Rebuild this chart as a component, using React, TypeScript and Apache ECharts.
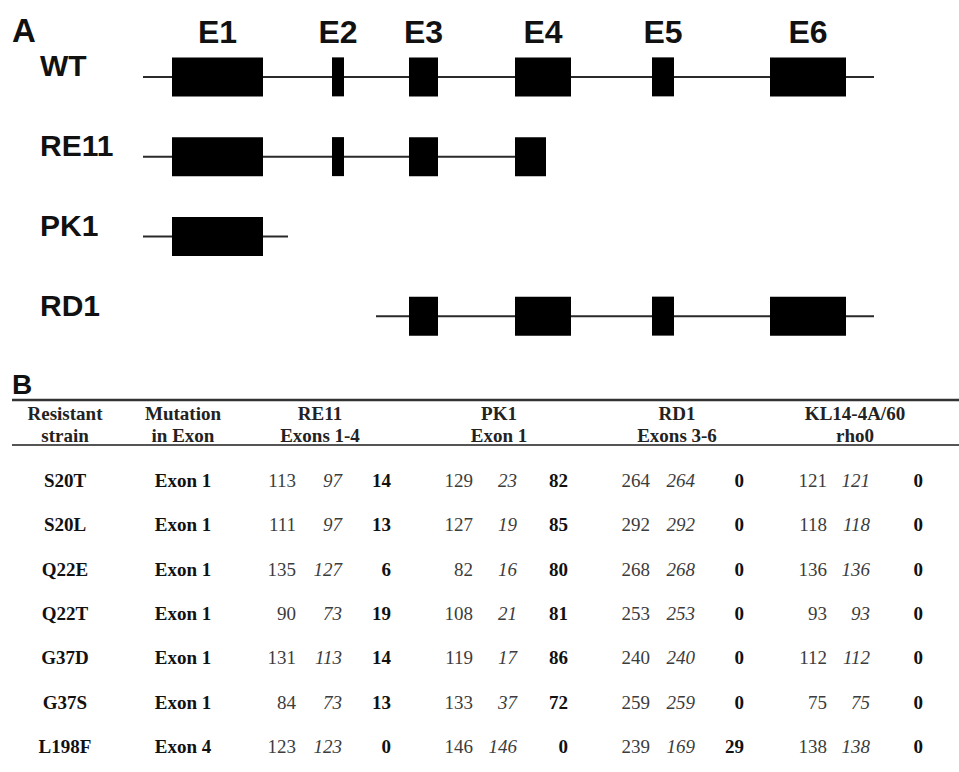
import React, { useEffect, useRef } from 'react';
import * as echarts from 'echarts';

// ---------- Panel A data (schematic gene coordinates) ----------
const constructs = ['WT', 'RE11', 'PK1', 'RD1'];
const exonNames = ['E1', 'E2', 'E3', 'E4', 'E5', 'E6'];
const wtExonStart = [172, 332, 409, 515, 652, 770];
const wtExonEnd = [263, 344, 438, 571, 674, 846];
const geneStart = [143, 143, 143, 376];
const geneEnd = [874, 546, 288, 874];
// exons carried by each construct: [exonIndex, start, end]
const re11Exons = [[0, 172, 263], [1, 332, 344], [2, 409, 438], [3, 515, 546]];
const pk1Exons = [[0, 172, 263]];
const rd1Exons = [[2, 409, 438], [3, 515, 571], [4, 652, 674], [5, 770, 846]];

// ---------- Panel B data ----------
const strains = ['S20T', 'S20L', 'Q22E', 'Q22T', 'G37D', 'G37S', 'L198F'];
const mutationExon = ['Exon 1', 'Exon 1', 'Exon 1', 'Exon 1', 'Exon 1', 'Exon 1', 'Exon 4'];
const re11Total = [113, 111, 135, 90, 131, 84, 123];
const re11Italic = [97, 97, 127, 73, 113, 73, 123];
const re11Bold = [14, 13, 6, 19, 14, 13, 0];
const pk1Total = [129, 127, 82, 108, 119, 133, 146];
const pk1Italic = [23, 19, 16, 21, 17, 37, 146];
const pk1Bold = [82, 85, 80, 81, 86, 72, 0];
const rd1Total = [264, 292, 268, 253, 240, 259, 239];
const rd1Italic = [264, 292, 268, 253, 240, 259, 169];
const rd1Bold = [0, 0, 0, 0, 0, 0, 29];
const klTotal = [121, 118, 136, 93, 112, 75, 138];
const klItalic = [121, 118, 136, 93, 112, 75, 138];
const klBold = [0, 0, 0, 0, 0, 0, 0];
const headerGroups = [
  ['RE11', 'Exons 1-4'],
  ['PK1', 'Exon 1'],
  ['RD1', 'Exons 3-6'],
  ['KL14-4A/60', 'rho0'],
];

// layout (x positions in table coordinate units)
const groupRight = [[296, 342, 391], [473, 517, 568], [650, 695, 744], [827, 870, 923]];
const groupCenter = [320, 499, 677, 855];
const strainX = 65;
const exonX = 183;

const SANS = '"Liberation Sans", Arial, Helvetica, sans-serif';
const SERIF = '"Liberation Serif", "Times New Roman", Times, serif';

export default function App() {
  const ref = useRef<HTMLDivElement>(null);
  useEffect(() => {
    if (!ref.current) return;
    const chart = echarts.init(ref.current, undefined, { renderer: 'svg' });

    const geneLines = constructs.map((_, i) => [geneStart[i], geneEnd[i], i]);
    const exonData: number[][] = [];
    wtExonStart.forEach((s, k) => exonData.push([s, wtExonEnd[k], 0, k]));
    re11Exons.forEach((e) => exonData.push([e[1], e[2], 1, e[0]]));
    pk1Exons.forEach((e) => exonData.push([e[1], e[2], 2, e[0]]));
    rd1Exons.forEach((e) => exonData.push([e[1], e[2], 3, e[0]]));

    const groups = [
      [re11Total, re11Italic, re11Bold],
      [pk1Total, pk1Italic, pk1Bold],
      [rd1Total, rd1Italic, rd1Bold],
      [klTotal, klItalic, klBold],
    ];

    const graphic: any[] = [
      { type: 'text', left: 12, top: 14, style: { text: 'A', font: `bold 33px ${SANS}`, fill: '#111' } },
      { type: 'text', left: 12, top: 370, style: { text: 'B', font: `bold 28px ${SANS}`, fill: '#111' } },
      { type: 'line', shape: { x1: 12, y1: 400, x2: 959, y2: 400 }, style: { stroke: '#333', lineWidth: 2.5 } },
      { type: 'line', shape: { x1: 12, y1: 445, x2: 959, y2: 445 }, style: { stroke: '#555', lineWidth: 2 } },
    ];
    const headerText = (t: string, x: number, y: number) => ({
      type: 'text', x, y,
      style: { text: t, font: `bold 19px ${SERIF}`, fill: '#222', align: 'center', verticalAlign: 'middle' },
    });
    graphic.push(headerText('Resistant', strainX, 413));
    graphic.push(headerText('strain', strainX, 435));
    graphic.push(headerText('Mutation', exonX, 413));
    graphic.push(headerText('in Exon', exonX, 435));
    headerGroups.forEach((h, g) => {
      graphic.push(headerText(h[0], groupCenter[g], 413));
      graphic.push(headerText(h[1], groupCenter[g], 435));
    });

    const option: any = {
      animation: false,
      grid: [
        { left: 0, right: 0, top: 37, bottom: 416 },
        { left: 0, right: 0, top: 458, bottom: 3 },
      ],
      xAxis: [
        { type: 'value', min: 0, max: 959, show: false, gridIndex: 0 },
        { type: 'value', min: 0, max: 959, show: false, gridIndex: 1 },
      ],
      yAxis: [
        { type: 'category', data: constructs, inverse: true, show: false, gridIndex: 0 },
        { type: 'category', data: strains, inverse: true, show: false, gridIndex: 1 },
      ],
      graphic,
      series: [
        {
          type: 'custom',
          xAxisIndex: 0,
          yAxisIndex: 0,
          encode: { x: [0, 1], y: 2 },
          data: geneLines,
          renderItem: (params: any, api: any) => {
            const row = api.value(2);
            const s = api.coord([api.value(0), row]);
            const e = api.coord([api.value(1), row]);
            return {
              type: 'group',
              children: [
                { type: 'line', shape: { x1: s[0], y1: s[1], x2: e[0], y2: e[1] }, style: { stroke: '#2a2a2a', lineWidth: 2 } },
                {
                  type: 'text', x: 40, y: s[1] - 11,
                  style: { text: constructs[row], font: `bold 30px ${SANS}`, fill: '#111', align: 'left', verticalAlign: 'middle' },
                },
              ],
            };
          },
        },
        {
          type: 'custom',
          xAxisIndex: 0,
          yAxisIndex: 0,
          encode: { x: [0, 1], y: 2 },
          data: exonData,
          renderItem: (params: any, api: any) => {
            const row = api.value(2);
            const s = api.coord([api.value(0), row]);
            const e = api.coord([api.value(1), row]);
            const h = 39;
            const children: any[] = [
              { type: 'rect', shape: { x: s[0], y: s[1] - h / 2, width: e[0] - s[0], height: h }, style: { fill: '#000' } },
            ];
            if (row === 0) {
              children.push({
                type: 'text', x: (s[0] + e[0]) / 2, y: s[1] - 45,
                style: { text: exonNames[api.value(3)], font: `bold 32px ${SANS}`, fill: '#111', align: 'center', verticalAlign: 'middle' },
              });
            }
            return { type: 'group', children };
          },
        },
        {
          type: 'custom',
          xAxisIndex: 1,
          yAxisIndex: 1,
          encode: { x: 0, y: 1 },
          data: strains.map((_, i) => [0, i]),
          renderItem: (params: any, api: any) => {
            const i = api.value(1);
            const y = api.coord([0, i])[1];
            const children: any[] = [];
            const t = (text: string, x: number, align: string, font: string, fill: string) =>
              children.push({ type: 'text', x: api.coord([x, i])[0], y, style: { text, font, fill, align, verticalAlign: 'middle' } });
            t(strains[i], strainX, 'center', `bold 19px ${SERIF}`, '#111');
            t(mutationExon[i], exonX, 'center', `bold 19px ${SERIF}`, '#111');
            groups.forEach((g, gi) => {
              t(String(g[0][i]), groupRight[gi][0], 'right', `19px ${SERIF}`, '#3c3c3c');
              t(String(g[1][i]), groupRight[gi][1], 'right', `italic 19px ${SERIF}`, '#3c3c3c');
              t(String(g[2][i]), groupRight[gi][2], 'right', `bold 19px ${SERIF}`, '#111');
            });
            return { type: 'group', children };
          },
        },
      ],
    };
    chart.setOption(option);
    return () => chart.dispose();
  }, []);
  return <div ref={ref} style={{ position: 'absolute', left: 0, top: 0, width: 959, height: 772, background: '#fff' }} />;
}
